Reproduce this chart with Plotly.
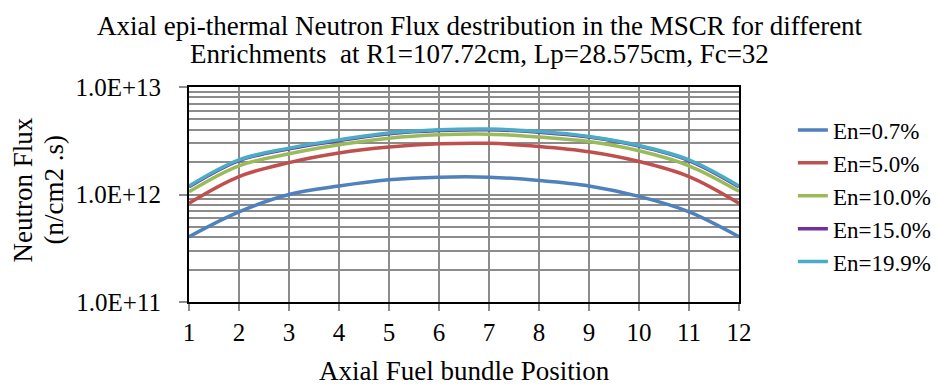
import plotly.graph_objects as go

positions = [1, 2, 3, 4, 5, 6, 7, 8, 9, 10, 11, 12]
series_names = ["En=0.7%", "En=5.0%", "En=10.0%", "En=15.0%", "En=19.9%"]
flux_en07 = [4.05e11, 6.9e11, 1.0e12, 1.2e12, 1.37e12, 1.45e12, 1.45e12, 1.35e12, 1.2e12, 9.6e11, 6.9e11, 4.05e11]
flux_en50 = [8.3e11, 1.47e12, 1.98e12, 2.43e12, 2.76e12, 2.96e12, 2.99e12, 2.8e12, 2.5e12, 2.03e12, 1.47e12, 8.3e11]
flux_en100 = [1.06e12, 1.85e12, 2.39e12, 2.9e12, 3.34e12, 3.59e12, 3.64e12, 3.42e12, 3.11e12, 2.55e12, 1.85e12, 1.07e12]
flux_en150 = [1.18e12, 2.07e12, 2.66e12, 3.18e12, 3.68e12, 3.94e12, 4.0e12, 3.8e12, 3.42e12, 2.82e12, 2.07e12, 1.18e12]
flux_en199 = [1.2e12, 2.1e12, 2.7e12, 3.23e12, 3.73e12, 4.0e12, 4.06e12, 3.86e12, 3.47e12, 2.86e12, 2.1e12, 1.2e12]
y_tickvals = [1e11, 1e12, 1e13]
y_ticktext = ["1.0E+11", "1.0E+12", "1.0E+13"]

title_line1 = "Axial epi-thermal Neutron Flux destribution in the MSCR for different"
title_line2 = "Enrichments  at R1=107.72cm, Lp=28.575cm, Fc=32"
x_title = "Axial Fuel bundle Position"
y_title_line1 = "Neutron Flux"
y_title_line2 = "(n/cm2 .s)"

colors = ["#4F81BD", "#C0504D", "#9BBB59", "#7030A0", "#4BACC6"]
all_series = [flux_en07, flux_en50, flux_en100, flux_en150, flux_en199]

FONT = "Liberation Serif, Times New Roman, serif"
GRID = "#8c8c8c"

fig = go.Figure()
for name, vals, col in zip(series_names, all_series, colors):
    fig.add_trace(go.Scatter(
        x=positions, y=vals, name=name, mode="lines",
        line=dict(color=col, width=3.5, shape="spline", smoothing=1.0),
    ))

minor_vals = [k * 10 ** e for e in (11, 12) for k in range(2, 10)]

# page has an 8px body margin, so the figure is 8px smaller than the window
fig.update_layout(
    width=941, height=377,
    margin=dict(l=181, r=210, t=79, b=83, autoexpand=False),
    paper_bgcolor="white", plot_bgcolor="white",
    font=dict(family=FONT, size=24, color="black"),
    legend=dict(
        x=1.098, xanchor="left", y=0.9, yanchor="top",
        font=dict(family=FONT, size=23, color="black"),
        tracegroupgap=0,
        bgcolor="rgba(0,0,0,0)",
    ),
    showlegend=True,
    annotations=[
        dict(text=title_line1, xref="paper", yref="paper", x=0.529, y=1.0, yshift=61,
             xanchor="center", yanchor="middle", showarrow=False,
             font=dict(family=FONT, size=27, color="black")),
        dict(text=title_line2, xref="paper", yref="paper", x=0.529, y=1.0, yshift=33,
             xanchor="center", yanchor="middle", showarrow=False,
             font=dict(family=FONT, size=27, color="black")),
        dict(text=x_title, xref="paper", yref="paper", x=0.5, y=0, yshift=-69,
             xanchor="center", yanchor="middle", showarrow=False,
             font=dict(family=FONT, size=27, color="black")),
        dict(text=y_title_line1, xref="paper", yref="paper", x=0, xshift=-167, y=0.5, yshift=4,
             xanchor="center", yanchor="middle", textangle=-90, showarrow=False,
             font=dict(family=FONT, size=27, color="black")),
        dict(text=y_title_line2, xref="paper", yref="paper", x=0, xshift=-136, y=0.5, yshift=4,
             xanchor="center", yanchor="middle", textangle=-90, showarrow=False,
             font=dict(family=FONT, size=27, color="black")),
    ],
)

fig.update_xaxes(
    range=[1, 12], tickmode="array", tickvals=positions,
    ticks="outside", ticklen=7, tickcolor=GRID, tickwidth=1.5,
    showgrid=True, gridcolor=GRID, gridwidth=1.5,
    showline=True, linecolor="black", linewidth=2, mirror=True,
    zeroline=False, automargin=False,
    tickfont=dict(family=FONT, size=25),
)
fig.update_yaxes(
    type="log", range=[11, 13],
    tickmode="array", tickvals=y_tickvals, ticktext=y_ticktext,
    ticks="outside", ticklen=8, tickcolor=GRID, tickwidth=1.5,
    showgrid=True, gridcolor=GRID, gridwidth=1.5,
    minor=dict(tickmode="array", tickvals=minor_vals, showgrid=True, gridcolor=GRID, gridwidth=1.5, ticks=""),
    showline=True, linecolor="black", linewidth=2, mirror=True,
    zeroline=False, automargin=False,
    tickfont=dict(family=FONT, size=25),
    ticklabelstandoff=13,
)

fig.write_html("out.html")
